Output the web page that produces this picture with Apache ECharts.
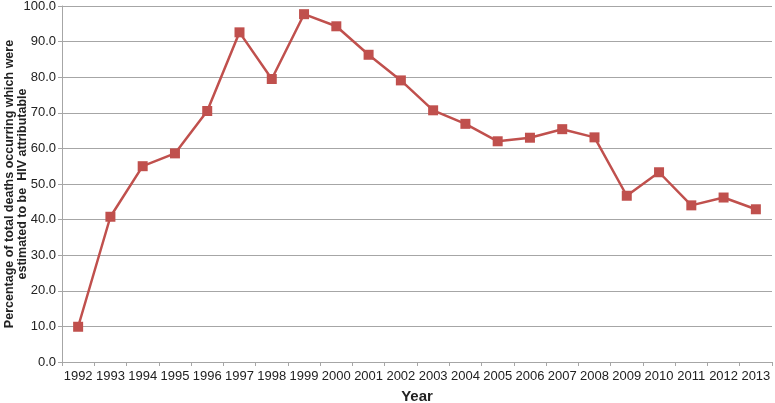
<!DOCTYPE html>
<html>
<head>
<meta charset="utf-8">
<script src="https://cdn.jsdelivr.net/npm/echarts@6/dist/echarts.min.js"></script>
<style>
  html, body { margin: 0; padding: 0; background: #fff; }
  #chart { width: 775px; height: 403px; }
</style>
</head>
<body>
<div id="chart"></div>
<script>
  // 年份与数值
  const years = ['1992', '1993', '1994', '1995', '1996', '1997', '1998', '1999', '2000', '2001', '2002',
    '2003', '2004', '2005', '2006', '2007', '2008', '2009', '2010', '2011', '2012', '2013'];
  const hivPercent = [9.9, 40.8, 55.0, 58.6, 70.5, 92.6, 79.5, 97.7, 94.3, 86.3, 79.1,
    70.7, 66.9, 62.0, 63.0, 65.4, 63.1, 46.7, 53.3, 44.0, 46.2, 42.9];

  const chart = echarts.init(document.getElementById('chart'));
  const labelFont = 'Liberation Sans, Arial, sans-serif';

  chart.setOption({
    animation: false,
    grid: {
      left: 62,
      right: 3,
      top: 6,
      bottom: 41,
      containLabel: false,
      outerBoundsMode: 'none'
    },
    xAxis: {
      type: 'category',
      data: years,
      boundaryGap: true,
      name: 'Year',
      nameLocation: 'middle',
      nameGap: 27,
      nameTextStyle: {
        fontFamily: labelFont,
        fontWeight: 'bold',
        fontSize: 15,
        color: '#222'
      },
      axisLine: { lineStyle: { color: '#a6a6a6', width: 1 } },
      axisTick: { show: true, alignWithLabel: false, length: 4, lineStyle: { color: '#a6a6a6' } },
      axisLabel: {
        interval: 0,
        margin: 8,
        fontFamily: labelFont,
        fontSize: 13,
        color: '#222'
      },
      splitLine: { show: false }
    },
    yAxis: {
      type: 'value',
      min: 0,
      max: 100,
      interval: 10,
      name: 'Percentage of total deaths occurring which were\nestimated to be  HIV attributable',
      nameLocation: 'middle',
      nameGap: 33,
      nameMoveOverlap: false,
      nameTextStyle: {
        fontFamily: labelFont,
        fontWeight: 'bold',
        fontSize: 12.5,
        lineHeight: 13,
        color: '#222',
        align: 'center'
      },
      axisLine: { show: true, lineStyle: { color: '#a6a6a6', width: 1 } },
      axisTick: { show: true, length: 4, lineStyle: { color: '#a6a6a6' } },
      axisLabel: {
        margin: 6,
        fontFamily: labelFont,
        fontSize: 13,
        color: '#222',
        formatter: function (v) { return v.toFixed(1); }
      },
      splitLine: { show: true, lineStyle: { color: '#a6a6a6', width: 1 } }
    },
    series: [
      {
        type: 'line',
        data: hivPercent,
        symbol: 'rect',
        symbolSize: 10,
        lineStyle: { color: '#c0504d', width: 2.5 },
        itemStyle: { color: '#c0504d' }
      }
    ]
  });
</script>
</body>
</html>
